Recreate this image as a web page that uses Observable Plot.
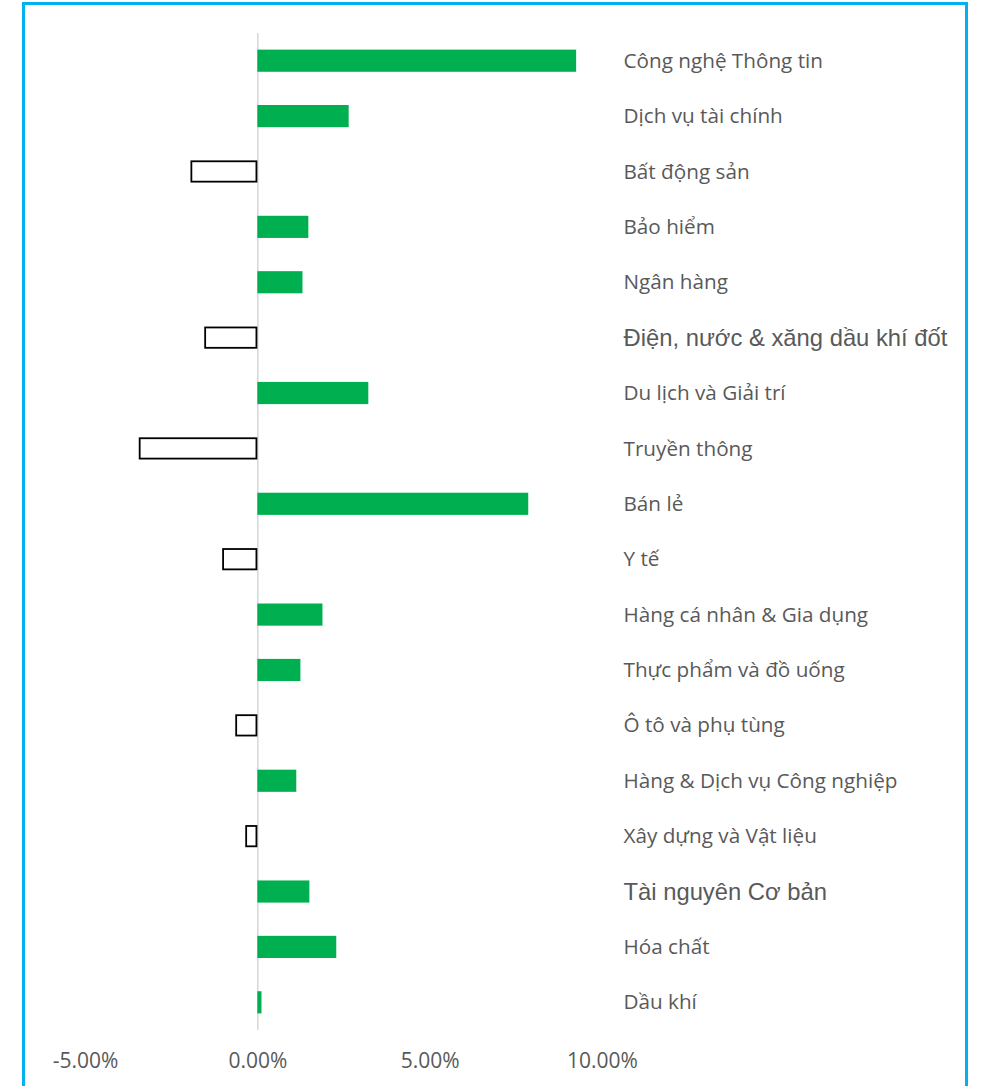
<!DOCTYPE html>
<html>
<head>
<meta charset="utf-8">
<script src="https://cdn.jsdelivr.net/npm/d3@7"></script>
<script src="https://cdn.jsdelivr.net/npm/@observablehq/plot@0.6"></script>
<style>
  html, body { margin: 0; padding: 0; background: #fff; overflow: hidden; }
  #wrap { position: relative; width: 984px; height: 1086px; }
  #frame { position: absolute; left: 22px; top: 2px; width: 940px; height: 1120px; border: 3px solid #00b0f0; box-sizing: content-box; }
  #chart { position: absolute; left: 0; top: 0; }
</style>
</head>
<body>
<div id="wrap">
  <div id="frame"></div>
  <div id="chart"></div>
</div>
<script>
const categories = [
  "Công nghệ Thông tin",
  "Dịch vụ tài chính",
  "Bất động sản",
  "Bảo hiểm",
  "Ngân hàng",
  "Điện, nước & xăng dầu khí đốt",
  "Du lịch và Giải trí",
  "Truyền thông",
  "Bán lẻ",
  "Y tế",
  "Hàng cá nhân & Gia dụng",
  "Thực phẩm và đồ uống",
  "Ô tô và phụ tùng",
  "Hàng & Dịch vụ Công nghiệp",
  "Xây dựng và Vật liệu",
  "Tài nguyên Cơ bản",
  "Hóa chất",
  "Dầu khí"
];
const values = [9.25, 2.65, -1.94, 1.48, 1.31, -1.54, 3.22, -3.44, 7.86, -1.02, 1.89, 1.25, -0.64, 1.13, -0.35, 1.51, 2.29, 0.12];
const xTicks = [-5, 0, 5, 10];
const specialLabels = ["Điện, nước & xăng dầu khí đốt", "Tài nguyên Cơ bản"];

const data = categories.map((c, i) => ({category: c, value: values[i]}));
const pos = data.filter(d => d.value >= 0);
const neg = data.filter(d => d.value < 0);
const normalLabels = categories.filter(c => !specialLabels.includes(c));

const chart = Plot.plot({
  width: 984,
  height: 1086,
  marginLeft: 85,
  marginRight: 382,
  marginTop: 33,
  marginBottom: 56,
  style: {background: "transparent", overflow: "visible"},
  x: {domain: [-5, 10]},
  y: {domain: categories, paddingInner: 0.6, paddingOuter: 0.3, align: 0.5, round: false},
  marks: [
    Plot.ruleX([0], {stroke: "#d9d9d9", strokeWidth: 1.6}),
    Plot.barX(pos, {x1: 0, x2: "value", y: "category", fill: "#00b050"}),
    Plot.barX(neg, {x1: "value", x2: 0, y: "category", fill: "#ffffff", stroke: "#000000", strokeWidth: 1.8, inset: 0.9}),
    Plot.axisX(xTicks, {anchor: "bottom", tickSize: 0, tickPadding: 23, tickFormat: d => d.toFixed(2) + "%", fontSize: 21, fontFamily: "Open Sans", fill: "#595959", label: null}),
    Plot.axisY(normalLabels, {anchor: "right", tickSize: 0, tickPadding: 21, fontSize: 20.7, fontFamily: "Open Sans", fill: "#595959", textAnchor: "start", label: null}),
    Plot.axisY(specialLabels, {anchor: "right", tickSize: 0, tickPadding: 21, fontSize: 23.8, fontFamily: "Liberation Sans", fill: "#595959", textAnchor: "start", label: null})
  ]
});
document.getElementById("chart").appendChild(chart);
</script>
</body>
</html>
